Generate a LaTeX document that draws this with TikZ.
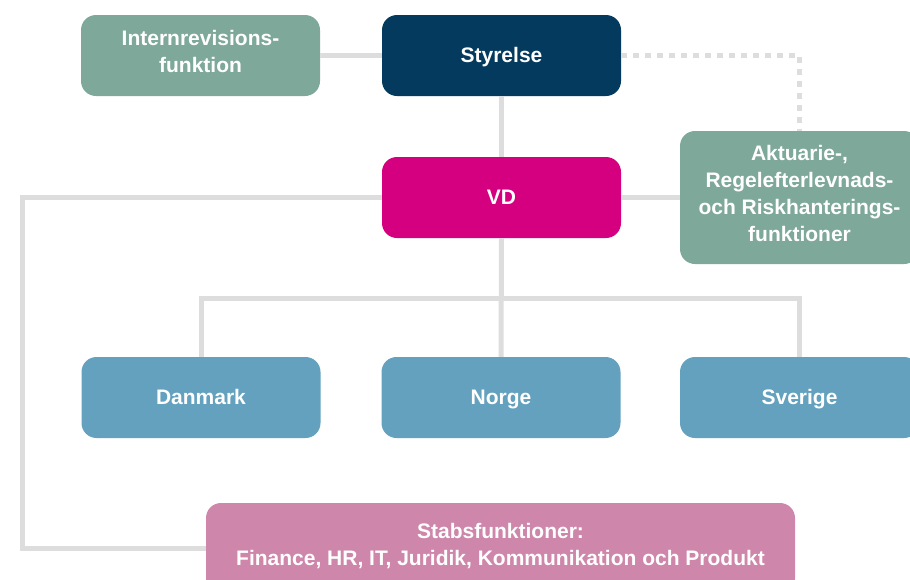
\documentclass[tikz,border=0pt]{standalone}
\usepackage{fontspec}
\setmainfont{Liberation Sans}
\usetikzlibrary{calc}
\definecolor{navy}{HTML}{043A5E}
\definecolor{magenta}{HTML}{D5007F}
\definecolor{sage}{HTML}{7EA89A}
\definecolor{teal}{HTML}{63A1BE}
\definecolor{rose}{HTML}{CE86AB}
\definecolor{linegray}{HTML}{DDDDDD}
\tikzset{
	box/.style={rounded corners=15pt, minimum width=239pt, minimum height=81pt, inner sep=0pt, text=white, align=center, font=\fontsize{21}{27}\selectfont\bfseries, execute at begin node=\rule{0pt}{23pt}, execute at end node=\strut},
	multibox/.style={box, execute at begin node=\strut},
	link/.style={line width=5pt, color=linegray},
	dotlink/.style={line width=5pt, color=linegray, dash pattern=on 6pt off 6pt}
}

\begin{document}
\begin{tikzpicture}[x=1pt, y=-1pt]
		%%%%% START %%%%%
		
		\useasboundingbox (0, 0) rectangle (910, 579);
		\clip (0, 0) rectangle (910, 579);
		
		\node[multibox, fill=sage] (intrev) at (200.5, 55.5) {Internrevisions-\\funktion};
		\node[box, fill=navy] (styr) at (501.5, 55.5) {Styrelse};
		\node[box, fill=magenta] (vd) at (501.5, 197.5) {VD};
		\node[multibox, fill=sage, minimum height=133pt, execute at begin node=\rule{0pt}{25pt}] (akt) at (799.5, 197.5) {Aktuarie-,\\Regelefterlevnads-\\och Riskhanterings-\\funktioner};
		
		\node[box, fill=teal] (dk) at (201, 397.5) {Danmark};
		\node[box, fill=teal] (no) at (501, 397.5) {Norge};
		\node[box, fill=teal] (se) at (799.5, 397.5) {Sverige};
		
		\node[multibox, fill=rose, minimum width=589pt, minimum height=90pt] (stab) at (500.5, 548) {Stabsfunktioner:\\Finance, HR, IT, Juridik, Kommunikation och Produkt};
		
		\coordinate (left) at (22, 197.5);
		\coordinate (bus) at (501, 298);
		
		\draw[link] (intrev.east) -- (styr.west);
		\draw[link] (styr.south) -- (vd.north);
		\draw[link] (vd.east) -- (akt.west);
		\draw[dotlink] (styr.east) -| (akt.north);
		\draw[link] (vd.south) -- (no.north);
		\draw[link] (dk.north) |- (bus) -| (se.north);
		\draw[link] (vd.west) -- (left) |- (stab.west);
		
		%%%%% END %%%%%
	\end{tikzpicture}
\end{document}
